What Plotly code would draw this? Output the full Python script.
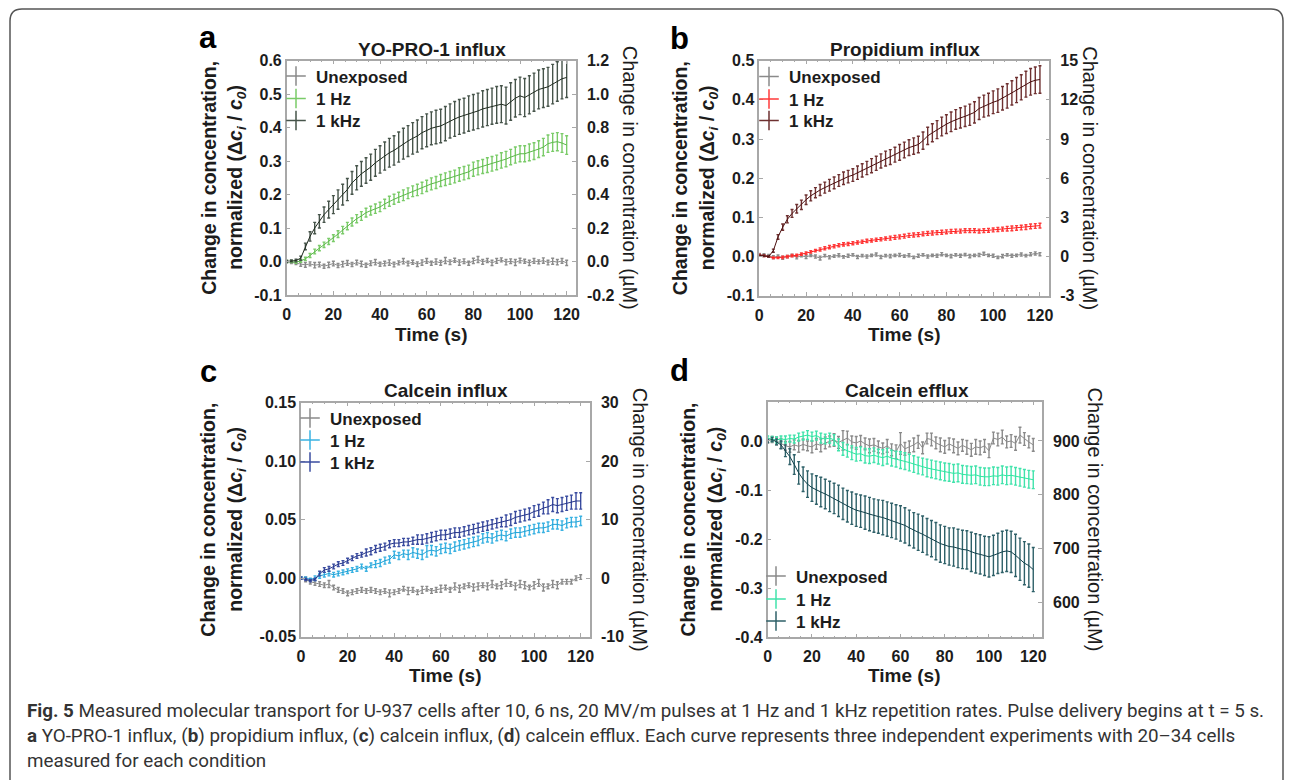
import plotly.graph_objects as go

W, H = 1292, 780

time_s = list(range(0, 121, 2))

# ---- a: YO-PRO-1 influx (normalized change) ----
yopro_unexposed = [0.000, -0.002, -0.004, -0.008, -0.010, -0.007, -0.011, -0.009, -0.014, -0.010,
                   -0.006, -0.012, -0.008, -0.004, -0.009, -0.003, -0.007, -0.011, -0.005, -0.002,
                   -0.008, -0.006, -0.003, -0.009, -0.004, 0.001, -0.006, -0.002, -0.008, -0.003,
                   0.002, -0.005, 0.000, -0.004, 0.003, -0.002, 0.004, -0.003, 0.001, -0.005,
                   0.002, 0.006, -0.001, 0.003, -0.004, 0.002, 0.005, -0.002, 0.001, -0.003,
                   0.003, 0.001, -0.004, 0.002, -0.001, 0.003, -0.003, 0.001, -0.002, 0.002,
                   -0.004]
yopro_unexposed_err = [0.003, 0.004, 0.005, 0.006, 0.007, 0.006, 0.008, 0.007, 0.006, 0.008,
                       0.007, 0.006, 0.008, 0.007, 0.006, 0.007, 0.008, 0.006, 0.007, 0.008,
                       0.006, 0.007, 0.008, 0.007, 0.006, 0.008, 0.007, 0.006, 0.007, 0.008,
                       0.007, 0.006, 0.008, 0.007, 0.009, 0.007, 0.006, 0.008, 0.007, 0.006,
                       0.008, 0.009, 0.007, 0.006, 0.008, 0.007, 0.006, 0.008, 0.007, 0.009,
                       0.007, 0.006, 0.008, 0.007, 0.006, 0.008, 0.007, 0.009, 0.008, 0.007,
                       0.008]
yopro_1hz = [0.000, 0.000, -0.002, 0.002, 0.008, 0.018, 0.030, 0.040, 0.050, 0.060,
             0.070, 0.082, 0.094, 0.106, 0.118, 0.128, 0.136, 0.146, 0.152, 0.158,
             0.163, 0.172, 0.180, 0.186, 0.192, 0.198, 0.204, 0.210, 0.214, 0.220,
             0.226, 0.232, 0.236, 0.242, 0.246, 0.250, 0.254, 0.260, 0.264, 0.268,
             0.276, 0.280, 0.284, 0.288, 0.292, 0.296, 0.302, 0.306, 0.312, 0.318,
             0.322, 0.322, 0.326, 0.330, 0.336, 0.342, 0.352, 0.356, 0.358, 0.354,
             0.348]
yopro_1hz_err = [0.003, 0.003, 0.003, 0.004, 0.005, 0.006, 0.007, 0.008, 0.008, 0.009,
                 0.010, 0.010, 0.011, 0.011, 0.012, 0.012, 0.013, 0.013, 0.013, 0.014,
                 0.014, 0.014, 0.015, 0.015, 0.015, 0.016, 0.016, 0.016, 0.017, 0.017,
                 0.017, 0.018, 0.018, 0.018, 0.019, 0.019, 0.019, 0.020, 0.020, 0.020,
                 0.021, 0.021, 0.021, 0.022, 0.022, 0.022, 0.023, 0.023, 0.023, 0.024,
                 0.024, 0.024, 0.025, 0.025, 0.025, 0.026, 0.026, 0.027, 0.027, 0.028,
                 0.028]
yopro_1khz = [0.000, 0.002, 0.003, 0.010, 0.045, 0.075, 0.100, 0.120, 0.140, 0.155,
              0.170, 0.185, 0.200, 0.215, 0.235, 0.250, 0.262, 0.272, 0.282, 0.295,
              0.305, 0.315, 0.325, 0.332, 0.342, 0.352, 0.360, 0.368, 0.375, 0.385,
              0.392, 0.398, 0.402, 0.405, 0.412, 0.420, 0.426, 0.432, 0.436, 0.442,
              0.446, 0.450, 0.456, 0.460, 0.464, 0.468, 0.470, 0.466, 0.478, 0.488,
              0.495, 0.490, 0.498, 0.506, 0.514, 0.518, 0.522, 0.530, 0.538, 0.546,
              0.550]
yopro_1khz_err = [0.003, 0.003, 0.004, 0.006, 0.010, 0.014, 0.017, 0.020, 0.023, 0.025,
                  0.027, 0.029, 0.031, 0.033, 0.034, 0.036, 0.037, 0.038, 0.039, 0.040,
                  0.041, 0.042, 0.043, 0.044, 0.045, 0.046, 0.046, 0.047, 0.048, 0.048,
                  0.049, 0.049, 0.050, 0.050, 0.051, 0.051, 0.052, 0.052, 0.052, 0.053,
                  0.053, 0.053, 0.054, 0.054, 0.054, 0.055, 0.055, 0.055, 0.056, 0.056,
                  0.056, 0.057, 0.057, 0.057, 0.058, 0.058, 0.058, 0.059, 0.059, 0.060,
                  0.060]

# ---- b: propidium influx ----
prop_unexposed = [0.005, 0.004, 0.002, -0.002, 0.001, -0.003, 0.000, 0.003, -0.002, 0.002,
                  -0.001, 0.003, 0.000, -0.004, 0.002, -0.002, 0.001, 0.003, -0.001, 0.002,
                  0.004, -0.001, 0.002, 0.000, 0.003, 0.005, -0.001, 0.002, 0.001, 0.003,
                  0.004, 0.001, 0.003, -0.002, 0.002, 0.004, 0.000, 0.003, 0.002, 0.006,
                  0.003, 0.001, 0.004, 0.002, 0.005, 0.001, 0.003, 0.004, 0.007, 0.003,
                  0.002, -0.002, 0.001, 0.004, 0.002, 0.003, 0.005, 0.002, 0.006, 0.008,
                  0.006]
prop_unexposed_err = [0.003, 0.003, 0.003, 0.004, 0.003, 0.004, 0.003, 0.003, 0.004, 0.003,
                      0.004, 0.003, 0.004, 0.005, 0.003, 0.004, 0.003, 0.004, 0.003, 0.004,
                      0.003, 0.004, 0.003, 0.004, 0.003, 0.004, 0.004, 0.003, 0.004, 0.003,
                      0.004, 0.003, 0.004, 0.003, 0.004, 0.003, 0.004, 0.003, 0.004, 0.004,
                      0.003, 0.004, 0.003, 0.004, 0.003, 0.004, 0.003, 0.004, 0.004, 0.003,
                      0.004, 0.003, 0.004, 0.003, 0.004, 0.003, 0.004, 0.003, 0.004, 0.004,
                      0.004]
prop_1hz = [0.004, 0.002, 0.000, -0.003, -0.003, -0.002, 0.000, 0.002, 0.003, 0.006,
            0.009, 0.012, 0.015, 0.018, 0.021, 0.024, 0.026, 0.029, 0.031, 0.032,
            0.034, 0.036, 0.038, 0.040, 0.041, 0.043, 0.044, 0.046, 0.047, 0.049,
            0.050, 0.052, 0.054, 0.055, 0.056, 0.058, 0.059, 0.060, 0.061, 0.062,
            0.063, 0.064, 0.065, 0.065, 0.066, 0.066, 0.066, 0.065, 0.066, 0.067,
            0.068, 0.069, 0.070, 0.071, 0.072, 0.073, 0.074, 0.075, 0.077, 0.078,
            0.079]
prop_1hz_err = [0.002, 0.002, 0.002, 0.002, 0.002, 0.003, 0.003, 0.003, 0.003, 0.003,
                0.003, 0.003, 0.003, 0.004, 0.004, 0.004, 0.004, 0.004, 0.004, 0.004,
                0.004, 0.004, 0.004, 0.004, 0.004, 0.004, 0.004, 0.004, 0.005, 0.005,
                0.005, 0.005, 0.005, 0.005, 0.005, 0.005, 0.005, 0.005, 0.005, 0.005,
                0.005, 0.005, 0.005, 0.005, 0.005, 0.005, 0.005, 0.005, 0.005, 0.005,
                0.005, 0.005, 0.005, 0.006, 0.006, 0.006, 0.006, 0.006, 0.006, 0.006,
                0.006]
prop_1khz = [0.003, 0.002, 0.000, 0.015, 0.050, 0.075, 0.095, 0.110, 0.122, 0.132,
             0.145, 0.155, 0.163, 0.170, 0.176, 0.182, 0.188, 0.194, 0.200, 0.204,
             0.208, 0.214, 0.220, 0.226, 0.232, 0.238, 0.244, 0.250, 0.254, 0.260,
             0.266, 0.272, 0.278, 0.282, 0.286, 0.296, 0.308, 0.316, 0.324, 0.332,
             0.338, 0.344, 0.350, 0.354, 0.358, 0.362, 0.368, 0.378, 0.384, 0.388,
             0.394, 0.398, 0.404, 0.410, 0.418, 0.425, 0.432, 0.440, 0.446, 0.450,
             0.452]
prop_1khz_err = [0.002, 0.002, 0.002, 0.004, 0.006, 0.008, 0.009, 0.010, 0.011, 0.012,
                 0.012, 0.013, 0.013, 0.014, 0.014, 0.015, 0.015, 0.015, 0.016, 0.016,
                 0.016, 0.017, 0.017, 0.017, 0.018, 0.018, 0.018, 0.019, 0.019, 0.019,
                 0.020, 0.020, 0.020, 0.021, 0.021, 0.022, 0.022, 0.023, 0.023, 0.024,
                 0.024, 0.025, 0.025, 0.026, 0.026, 0.027, 0.027, 0.028, 0.028, 0.029,
                 0.029, 0.030, 0.030, 0.031, 0.031, 0.032, 0.032, 0.033, 0.034, 0.034,
                 0.035]

# ---- c: calcein influx ----
calin_unexposed = [0.000, -0.001, -0.003, -0.004, -0.005, -0.006, -0.005, -0.008, -0.010, -0.011,
                   -0.013, -0.012, -0.011, -0.010, -0.011, -0.010, -0.011, -0.012, -0.011, -0.013,
                   -0.012, -0.011, -0.009, -0.011, -0.010, -0.012, -0.010, -0.009, -0.011, -0.010,
                   -0.009, -0.008, -0.010, -0.007, -0.009, -0.007, -0.006, -0.008, -0.007, -0.006,
                   -0.007, -0.005, -0.007, -0.006, -0.004, -0.005, -0.007, -0.005, -0.006, -0.008,
                   -0.006, -0.004, -0.008, -0.007, -0.005, -0.006, -0.003, -0.003, -0.003, 0.000,
                   0.001]
calin_unexposed_err = [0.001, 0.002, 0.002, 0.002, 0.002, 0.002, 0.003, 0.002, 0.002, 0.002,
                       0.002, 0.002, 0.002, 0.002, 0.002, 0.002, 0.002, 0.002, 0.002, 0.003,
                       0.002, 0.002, 0.002, 0.003, 0.002, 0.002, 0.003, 0.002, 0.002, 0.002,
                       0.003, 0.002, 0.002, 0.003, 0.003, 0.002, 0.002, 0.003, 0.003, 0.002,
                       0.003, 0.003, 0.002, 0.003, 0.003, 0.002, 0.003, 0.003, 0.003, 0.002,
                       0.003, 0.003, 0.003, 0.002, 0.003, 0.003, 0.002, 0.002, 0.002, 0.002,
                       0.002]
calin_1hz = [0.000, 0.000, -0.001, 0.000, 0.002, 0.003, 0.004, 0.003, 0.004, 0.005,
             0.006, 0.007, 0.008, 0.010, 0.008, 0.011, 0.012, 0.013, 0.015, 0.016,
             0.020, 0.019, 0.021, 0.020, 0.022, 0.021, 0.020, 0.023, 0.024, 0.023,
             0.025, 0.026, 0.025, 0.027, 0.028, 0.029, 0.030, 0.031, 0.032, 0.034,
             0.035, 0.034, 0.036, 0.037, 0.036, 0.038, 0.039, 0.039, 0.040, 0.041,
             0.042, 0.043, 0.043, 0.044, 0.046, 0.046, 0.045, 0.047, 0.048, 0.048,
             0.049]
calin_1hz_err = [0.001, 0.001, 0.001, 0.002, 0.002, 0.002, 0.002, 0.002, 0.002, 0.002,
                 0.002, 0.002, 0.002, 0.002, 0.002, 0.002, 0.003, 0.003, 0.003, 0.003,
                 0.003, 0.003, 0.003, 0.004, 0.004, 0.004, 0.004, 0.005, 0.004, 0.004,
                 0.004, 0.004, 0.004, 0.004, 0.004, 0.004, 0.004, 0.004, 0.004, 0.004,
                 0.004, 0.004, 0.004, 0.004, 0.004, 0.004, 0.004, 0.004, 0.004, 0.004,
                 0.004, 0.004, 0.004, 0.004, 0.004, 0.004, 0.004, 0.004, 0.004, 0.004,
                 0.004]
calin_1khz = [0.000, -0.001, -0.002, -0.001, 0.004, 0.007, 0.008, 0.010, 0.012, 0.013,
              0.015, 0.017, 0.019, 0.020, 0.022, 0.023, 0.025, 0.026, 0.027, 0.029,
              0.030, 0.030, 0.031, 0.031, 0.032, 0.033, 0.033, 0.034, 0.035, 0.036,
              0.037, 0.037, 0.038, 0.039, 0.039, 0.040, 0.041, 0.042, 0.043, 0.044,
              0.045, 0.046, 0.047, 0.048, 0.049, 0.050, 0.052, 0.053, 0.054, 0.055,
              0.057, 0.058, 0.060, 0.061, 0.063, 0.062, 0.063, 0.064, 0.065, 0.066,
              0.066]
calin_1khz_err = [0.001, 0.001, 0.001, 0.001, 0.002, 0.002, 0.002, 0.002, 0.002, 0.002,
                  0.002, 0.002, 0.002, 0.002, 0.003, 0.003, 0.003, 0.003, 0.003, 0.003,
                  0.003, 0.003, 0.003, 0.003, 0.003, 0.004, 0.004, 0.004, 0.004, 0.004,
                  0.004, 0.004, 0.004, 0.004, 0.004, 0.004, 0.004, 0.004, 0.004, 0.004,
                  0.004, 0.004, 0.004, 0.004, 0.005, 0.005, 0.005, 0.005, 0.005, 0.005,
                  0.005, 0.005, 0.005, 0.006, 0.006, 0.006, 0.006, 0.006, 0.006, 0.007,
                  0.007]

# ---- d: calcein efflux ----
calout_unexposed = [0.000, 0.003, 0.000, -0.005, -0.010, -0.012, -0.008, -0.011, -0.007, -0.010,
                    -0.012, -0.006, -0.009, -0.004, -0.001, 0.002, -0.003, 0.001, 0.006, -0.002,
                    -0.004, 0.000, -0.006, -0.010, -0.008, -0.012, -0.015, -0.010, -0.018, -0.022,
                    -0.005, -0.016, -0.012, -0.008, -0.002, -0.014, 0.005, 0.003, -0.004, -0.008,
                    -0.012, -0.006, -0.010, -0.015, -0.009, -0.013, -0.018, -0.012, -0.014, -0.010,
                    -0.020, 0.006, 0.003, 0.008, -0.002, 0.000, -0.005, 0.012, 0.004, -0.002,
                    -0.008]
calout_unexposed_err = [0.004, 0.006, 0.008, 0.010, 0.009, 0.011, 0.010, 0.012, 0.011, 0.010,
                        0.012, 0.011, 0.013, 0.012, 0.011, 0.013, 0.012, 0.020, 0.014, 0.012,
                        0.013, 0.011, 0.012, 0.014, 0.013, 0.012, 0.011, 0.013, 0.012, 0.014,
                        0.022, 0.013, 0.012, 0.014, 0.013, 0.012, 0.011, 0.013, 0.012, 0.014,
                        0.013, 0.012, 0.014, 0.013, 0.012, 0.014, 0.013, 0.015, 0.014, 0.013,
                        0.014, 0.012, 0.013, 0.014, 0.012, 0.013, 0.014, 0.016, 0.013, 0.012,
                        0.013]
calout_1hz = [0.006, 0.004, 0.002, 0.004, 0.003, 0.005, 0.004, 0.008, 0.010, 0.012,
              0.009, 0.011, 0.006, 0.004, 0.006, 0.002, -0.008, -0.016, -0.020, -0.024,
              -0.027, -0.026, -0.030, -0.031, -0.029, -0.032, -0.034, -0.031, -0.035, -0.037,
              -0.039, -0.041, -0.044, -0.047, -0.050, -0.052, -0.055, -0.057, -0.059, -0.061,
              -0.063, -0.064, -0.066, -0.065, -0.068, -0.069, -0.070, -0.069, -0.072, -0.073,
              -0.073, -0.071, -0.072, -0.069, -0.071, -0.070, -0.072, -0.074, -0.076, -0.078,
              -0.079]
calout_1hz_err = [0.004, 0.005, 0.006, 0.006, 0.007, 0.007, 0.008, 0.008, 0.008, 0.009,
                  0.009, 0.009, 0.010, 0.010, 0.010, 0.011, 0.012, 0.013, 0.013, 0.014,
                  0.014, 0.014, 0.015, 0.015, 0.015, 0.015, 0.016, 0.016, 0.016, 0.016,
                  0.017, 0.017, 0.017, 0.017, 0.017, 0.017, 0.018, 0.018, 0.018, 0.018,
                  0.018, 0.018, 0.018, 0.018, 0.018, 0.018, 0.018, 0.018, 0.018, 0.018,
                  0.018, 0.018, 0.018, 0.018, 0.018, 0.018, 0.018, 0.018, 0.018, 0.018,
                  0.018]
calout_1khz = [0.000, 0.003, -0.002, -0.008, -0.020, -0.032, -0.048, -0.065, -0.078, -0.088,
               -0.095, -0.100, -0.104, -0.108, -0.113, -0.117, -0.122, -0.128, -0.133, -0.137,
               -0.141, -0.143, -0.146, -0.149, -0.152, -0.154, -0.156, -0.159, -0.162, -0.165,
               -0.168, -0.172, -0.177, -0.182, -0.186, -0.190, -0.195, -0.199, -0.204, -0.209,
               -0.212, -0.215, -0.216, -0.219, -0.221, -0.222, -0.226, -0.229, -0.231, -0.234,
               -0.236, -0.233, -0.229, -0.226, -0.224, -0.226, -0.233, -0.241, -0.249, -0.254,
               -0.262]
calout_1khz_err = [0.003, 0.004, 0.006, 0.008, 0.012, 0.016, 0.020, 0.023, 0.025, 0.027,
                   0.028, 0.029, 0.030, 0.030, 0.031, 0.031, 0.032, 0.032, 0.032, 0.033,
                   0.033, 0.033, 0.034, 0.034, 0.034, 0.034, 0.035, 0.035, 0.035, 0.035,
                   0.036, 0.036, 0.036, 0.036, 0.037, 0.037, 0.037, 0.037, 0.038, 0.038,
                   0.038, 0.038, 0.039, 0.039, 0.039, 0.039, 0.040, 0.040, 0.040, 0.040,
                   0.041, 0.041, 0.041, 0.042, 0.042, 0.042, 0.043, 0.043, 0.044, 0.044,
                   0.045]

# tick labels
time_ticks = [0, 20, 40, 60, 80, 100, 120]
a_left_ticks = [-0.1, 0.0, 0.1, 0.2, 0.3, 0.4, 0.5, 0.6]
a_right_ticks = [-0.2, 0.0, 0.2, 0.4, 0.6, 0.8, 1.0, 1.2]
b_left_ticks = [-0.1, 0.0, 0.1, 0.2, 0.3, 0.4, 0.5]
b_right_ticks = [-3, 0, 3, 6, 9, 12, 15]
c_left_ticks = [-0.05, 0.00, 0.05, 0.10, 0.15]
c_right_ticks = [-10, 0, 10, 20, 30]
d_left_ticks = [-0.4, -0.3, -0.2, -0.1, 0.0]
d_right_ticks = [600, 700, 800, 900]

labels = ["Unexposed", "1 Hz", "1 kHz"]

FONT = "Liberation Sans, Arial, Helvetica, sans-serif"
INK = "#1c1c1c"
FRAME = "#a8a8a8"


def fx(p):
    return p / W


def fy(p):
    return 1 - p / H


panels = [
    dict(letter="a", title="YO-PRO-1 influx", box=(286.7, 576.0, 60.7, 295.0),
         yrange=[-0.1, 0.6], yticks=a_left_ticks, yfmt="{:.1f}",
         y2range=[-0.2, 1.2], y2ticks=a_right_ticks, y2fmt="{:.1f}",
         series=[(yopro_unexposed, yopro_unexposed_err, "#8a8a8a", "#8a8a8a"),
                 (yopro_1hz, yopro_1hz_err, "#5cb84a", "#7acb68"),
                 (yopro_1khz, yopro_1khz_err, "#1e2a1e", "#46544a")],
         letter_xy=(208, 37), title_xy=(432, 49), ltitle_x=(209, 237), rtitle_x=630,
         legend_x=313, legend_rows=(76, 98.5, 120.5), xtitle_y=334),
    dict(letter="b", title="Propidium influx", box=(759.3, 1049.3, 60.7, 295.7),
         yrange=[-0.1, 0.5], yticks=b_left_ticks, yfmt="{:.1f}",
         y2range=[-3, 15], y2ticks=b_right_ticks, y2fmt="{:d}",
         series=[(prop_unexposed, prop_unexposed_err, "#8a8a8a", "#8a8a8a"),
                 (prop_1hz, prop_1hz_err, "#ff1f1f", "#ff3a3a"),
                 (prop_1khz, prop_1khz_err, "#4a0f0f", "#6e3030")],
         letter_xy=(679, 38), title_xy=(905, 49), ltitle_x=(680, 708), rtitle_x=1090,
         legend_x=786, legend_rows=(76.5, 99, 120.5), xtitle_y=334),
    dict(letter="c", title="Calcein influx", box=(301.0, 590.0, 402.7, 636.7),
         yrange=[-0.05, 0.15], yticks=c_left_ticks, yfmt="{:.2f}",
         y2range=[-10, 30], y2ticks=c_right_ticks, y2fmt="{:d}",
         series=[(calin_unexposed, calin_unexposed_err, "#8a8a8a", "#8a8a8a"),
                 (calin_1hz, calin_1hz_err, "#1ea2d6", "#3ab2e2"),
                 (calin_1khz, calin_1khz_err, "#25358a", "#3a4ca0")],
         letter_xy=(208, 371), title_xy=(446, 390), ltitle_x=(208, 237), rtitle_x=640,
         legend_x=327, legend_rows=(418, 440, 462), xtitle_y=675),
    dict(letter="d", title="Calcein efflux", box=(767.7, 1042.1, 401.7, 637.3),
         yrange=[-0.4, 0.08], yticks=d_left_ticks, yfmt="{:.1f}",
         y2range=[535.8, 972.9], y2ticks=d_right_ticks, y2fmt="{:d}",
         series=[(calout_unexposed, calout_unexposed_err, "#8a8a8a", "#8a8a8a"),
                 (calout_1hz, calout_1hz_err, "#2ee6a0", "#40e3ab"),
                 (calout_1khz, calout_1khz_err, "#10404a", "#2e6068")],
         letter_xy=(679, 370), title_xy=(907, 390), ltitle_x=(687, 716), rtitle_x=1095,
         legend_x=793, legend_rows=(576, 599, 621), xtitle_y=675),
]


def fmt(v, f):
    if f == "{:d}":
        return str(int(round(v)))
    s = f.format(v)
    return "0." + "0" * (len(s) - 3) if s.startswith("-0.") and float(s) == 0 else s


def note(text, x, y, size=16, bold=True, angle=0, xanchor="center", family=FONT, color=INK):
    font = dict(family=family, size=size, color=color)
    if bold:
        font["weight"] = "bold"
    return dict(text=text, x=fx(x), y=fy(y), xref="paper", yref="paper",
                xanchor=xanchor, yanchor="middle", showarrow=False,
                textangle=angle, font=font)


fig = go.Figure()
annotations = []
layout = {}
tickfont = dict(family=FONT, size=16, color=INK, weight="bold")

for k, p in enumerate(panels):
    n = k + 1
    xid = "x" if n == 1 else f"x{n}"
    yl = 2 * k + 1
    yr = 2 * k + 2
    ylid = "y" if yl == 1 else f"y{yl}"
    yrid = f"y{yr}"
    L, R, T, B = p["box"]

    for vals, err, lc, ec in p["series"]:
        fig.add_trace(go.Scatter(
            x=time_s, y=vals, mode="lines", xaxis=xid, yaxis=ylid,
            line=dict(color=lc, width=1), showlegend=False, hoverinfo="skip",
            error_y=dict(type="data", array=err, visible=True,
                         color=ec, thickness=1.4, width=1.5)))

    # one small legend per entry so the rows sit where the reference puts them
    for i, (vals, err, lc, ec) in enumerate(p["series"]):
        idx = 3 * k + i + 1
        leg = "legend" if idx == 1 else f"legend{idx}"
        fig.add_trace(go.Scatter(
            x=[None], y=[None], mode="markers", xaxis=xid, yaxis=yrid,
            name=labels[i], legend=leg,
            marker=dict(symbol="cross-thin-open", size=14, color=ec,
                        line=dict(color=ec, width=1.5))))
        layout[leg] = dict(
            x=fx(p["legend_x"] - 37), y=fy(p["legend_rows"][i] - 17.5),
            xanchor="left", yanchor="top",
            bgcolor="rgba(0,0,0,0)", borderwidth=0,
            font=dict(family=FONT, size=17, color=INK, weight="bold"))

    xkey = "xaxis" if n == 1 else f"xaxis{n}"
    ylkey = "yaxis" if yl == 1 else f"yaxis{yl}"
    yrkey = f"yaxis{yr}"
    layout[xkey] = dict(
        domain=[fx(L), fx(R)], anchor=ylid, range=[0, 124], automargin=False,
        tickvals=time_ticks, ticktext=[str(t) for t in time_ticks],
        ticks="inside", ticklen=4, tickcolor=FRAME, tickfont=tickfont,
        ticklabelstandoff=4,
        showline=True, linecolor=FRAME, linewidth=1.5, mirror="ticks",
        showgrid=False, zeroline=False,
        minor=dict(dtick=5, ticks="inside", ticklen=2, tickcolor=FRAME))
    layout[ylkey] = dict(
        domain=[fy(B), fy(T)], anchor=xid, range=p["yrange"], automargin=False,
        tickvals=p["yticks"], ticktext=[fmt(v, p["yfmt"]) for v in p["yticks"]],
        ticks="inside", ticklen=4, tickcolor=FRAME, tickfont=tickfont,
        showline=True, linecolor=FRAME, linewidth=1.5,
        showgrid=False, zeroline=False)
    layout[yrkey] = dict(
        overlaying=ylid, side="right", anchor=xid, range=p["y2range"], automargin=False,
        tickvals=p["y2ticks"], ticktext=[fmt(v, p["y2fmt"]) for v in p["y2ticks"]],
        ticks="inside", ticklen=4, tickcolor=FRAME, tickfont=tickfont,
        ticklabelstandoff=6,
        showline=True, linecolor=FRAME, linewidth=1.5,
        showgrid=False, zeroline=False)

    cy = (T + B) / 2
    annotations += [
        note(p["letter"], *p["letter_xy"], size=31, color="#000"),
        note(p["title"], *p["title_xy"], size=19),
        note("Change in concentration,", p["ltitle_x"][0], cy, size=19.5, angle=-90),
        note("normalized (\u0394<i>c<sub>i</sub></i> / <i>c<sub>0</sub></i>)",
             p["ltitle_x"][1], cy, size=19.5, angle=-90),
        note("Change in concentration (\u00b5M)", p["rtitle_x"], cy, size=20,
             bold=False, angle=90),
        note("Time (s)", (L + R) / 2, p["xtitle_y"], size=19),
    ]

caption = [
    "<b>Fig. 5</b> Measured molecular transport for U-937 cells after 10, 6 ns, 20 MV/m pulses at 1 Hz and 1 kHz repetition rates. Pulse delivery begins at t = 5 s.",
    "<b>a</b> YO-PRO-1 influx, (<b>b</b>) propidium influx, (<b>c</b>) calcein influx, (<b>d</b>) calcein efflux. Each curve represents three independent experiments with 20\u201334 cells",
    "measured for each condition",
]
for i, line in enumerate(caption):
    annotations.append(note(line, 25, 711 + 25 * i, size=18.8, bold=False,
                            xanchor="left", family="Roboto, sans-serif", color="#333"))

r = 12
border = (f"M {fx(10)} {fy(800)} L {fx(10)} {fy(9 + r)} Q {fx(10)} {fy(9)} {fx(10 + r)} {fy(9)} "
          f"L {fx(1283 - r)} {fy(9)} Q {fx(1283)} {fy(9)} {fx(1283)} {fy(9 + r)} "
          f"L {fx(1283)} {fy(800)}")

fig.update_layout(
    width=W, height=H, margin=dict(l=0, r=0, t=0, b=0, autoexpand=False),
    paper_bgcolor="white", plot_bgcolor="white",
    annotations=annotations,
    shapes=[dict(type="path", path=border, xref="paper", yref="paper",
                 line=dict(color="#555", width=1.5))],
    **layout)

fig.write_html("out.html", config={"displayModeBar": False},
               post_script="document.body.style.margin = '0';")
